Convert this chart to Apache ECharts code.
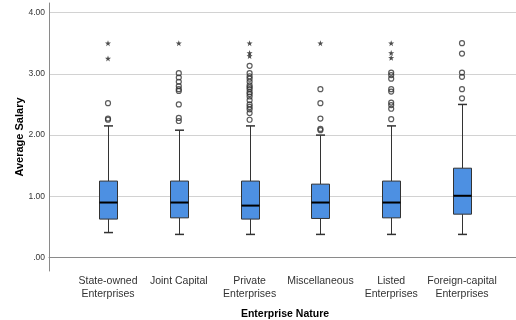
<!DOCTYPE html>
<html>
<head>
<meta charset="utf-8">
<script src="https://cdn.jsdelivr.net/npm/echarts@6/dist/echarts.min.js"></script>
<style>html,body{margin:0;padding:0;background:#fff}#c{width:516px;height:320px}</style>
</head>
<body>
<div id="c"></div>
<script>
const categories = ['State-owned\nEnterprises','Joint Capital','Private\nEnterprises','Miscellaneous','Listed\nEnterprises','Foreign-capital\nEnterprises'];
const lowerWhisker = [0.41, 0.38, 0.38, 0.38, 0.38, 0.38];
const q1 = [0.63, 0.65, 0.63, 0.64, 0.65, 0.71];
const median = [0.90, 0.90, 0.85, 0.90, 0.90, 1.01];
const q3 = [1.25, 1.25, 1.25, 1.20, 1.25, 1.46];
const upperWhisker = [2.15, 2.08, 2.15, 2.00, 2.15, 2.50];
const circleOutliers = [
  [2.25, 2.27, 2.52],
  [2.23, 2.28, 2.50, 2.72, 2.75, 2.80, 2.87, 2.94, 3.01],
  [2.25, 2.36, 2.42, 2.46, 2.50, 2.57, 2.63, 2.67, 2.70, 2.75, 2.78, 2.81, 2.87, 2.92, 2.96, 3.01, 3.13],
  [2.08, 2.10, 2.27, 2.52, 2.75],
  [2.26, 2.43, 2.49, 2.53, 2.71, 2.75, 2.92, 2.98, 3.02],
  [2.60, 2.75, 2.95, 3.02, 3.33, 3.50]
];
const starOutliers = [
  [3.25, 3.50],
  [3.50],
  [3.29, 3.34, 3.50],
  [3.50],
  [3.26, 3.34, 3.50],
  []
];
const yMin = -0.217, yMax = 4.155;
const FONT = "'Liberation Sans', Arial, sans-serif";

const boxData = categories.map((c, i) => [i, lowerWhisker[i], q1[i], median[i], q3[i], upperWhisker[i]]);
const circleData = [];
circleOutliers.forEach((arr, i) => arr.forEach(v => circleData.push([i, v])));
const starData = [];
starOutliers.forEach((arr, i) => arr.forEach(v => starData.push([i, v])));

const STAR = 'path://M0,-10 L2.35,-3.24 L9.51,-3.09 L3.8,1.24 L5.88,8.09 L0,4 L-5.88,8.09 L-3.8,1.24 L-9.51,-3.09 L-2.35,-3.24 Z';

const chart = echarts.init(document.getElementById('c'), null, {renderer: 'canvas'});
chart.setOption({
  animation: false,
  backgroundColor: '#fff',
  grid: [
    {left: 49, right: 0, top: 3, bottom: 49, outerBoundsMode: 'none', containLabel: false},
    {left: 72.6, right: 18.6, top: 3, bottom: 49, outerBoundsMode: 'none', containLabel: false}
  ],
  xAxis: [
    {gridIndex: 0, type: 'value', min: 0, max: 1,
     axisLine: {show: true, lineStyle: {color: '#8a8a8a', width: 1}},
     axisTick: {show: false}, axisLabel: {show: false}, splitLine: {show: false}},
    {gridIndex: 1, type: 'category', data: categories,
     axisLine: {show: false}, axisTick: {show: false},
     axisLabel: {interval: 0, margin: 4, color: '#333', fontFamily: FONT, fontSize: 10.5, lineHeight: 12.5},
     name: 'Enterprise Nature', nameLocation: 'middle', nameGap: 38, nameMoveOverlap: false,
     nameTextStyle: {fontFamily: FONT, fontSize: 10.5, fontWeight: 'bold', color: '#000'}}
  ],
  yAxis: [
    {gridIndex: 0, type: 'value', min: yMin, max: yMax, splitNumber: 4,
     axisLine: {show: true, lineStyle: {color: '#8a8a8a', width: 1}},
     axisTick: {show: false},
     axisLabel: {showMinLabel: false, showMaxLabel: false, margin: 4, color: '#333', fontFamily: FONT, fontSize: 8.5,
       formatter: v => (Math.abs(v - Math.round(v)) > 1e-6) ? '' : (Math.round(v) === 0 ? '.00' : v.toFixed(2))},
     splitLine: {show: true, showMinLine: false, showMaxLine: false, lineStyle: {color: '#d2d2d2', width: 1}},
     name: 'Average Salary', nameLocation: 'middle', nameGap: 24, nameMoveOverlap: false,
     nameTextStyle: {fontFamily: FONT, fontSize: 11, fontWeight: 'bold', color: '#000'}},
    {gridIndex: 1, type: 'value', min: yMin, max: yMax, show: false, splitLine: {show: false}}
  ],
  series: [
    {
      type: 'custom', xAxisIndex: 1, yAxisIndex: 1, data: boxData,
      renderItem: function (params, api) {
        const x = api.value(0);
        const pLo = api.coord([x, api.value(1)]);
        const pQ1 = api.coord([x, api.value(2)]);
        const pMed = api.coord([x, api.value(3)]);
        const pQ3 = api.coord([x, api.value(4)]);
        const pHi = api.coord([x, api.value(5)]);
        const cx = Math.round(pMed[0]) + 0.5;
        const bw = 18, cw = 9;
        const ls = {stroke: '#333', lineWidth: 1};
        return {
          type: 'group',
          children: [
            {type: 'line', shape: {x1: cx, y1: pHi[1], x2: cx, y2: pQ3[1]}, style: ls},
            {type: 'line', shape: {x1: cx, y1: pLo[1], x2: cx, y2: pQ1[1]}, style: ls},
            {type: 'line', shape: {x1: cx - cw / 2, y1: pHi[1], x2: cx + cw / 2, y2: pHi[1]}, style: {stroke: '#333', lineWidth: 1.5}},
            {type: 'line', shape: {x1: cx - cw / 2, y1: pLo[1], x2: cx + cw / 2, y2: pLo[1]}, style: {stroke: '#333', lineWidth: 1.5}},
            {type: 'rect', shape: {x: cx - bw / 2, y: pQ3[1], width: bw, height: pQ1[1] - pQ3[1]},
             style: {fill: '#4d90e2', stroke: '#333', lineWidth: 1}},
            {type: 'line', shape: {x1: cx - bw / 2, y1: pMed[1], x2: cx + bw / 2, y2: pMed[1]}, style: {stroke: '#000', lineWidth: 2}}
          ]
        };
      }
    },
    {
      type: 'scatter', xAxisIndex: 1, yAxisIndex: 1, data: circleData,
      symbol: 'circle', symbolSize: 5,
      itemStyle: {color: 'rgba(255,255,255,0)', borderColor: '#333', borderWidth: 1.2}
    },
    {
      type: 'scatter', xAxisIndex: 1, yAxisIndex: 1, data: starData,
      symbol: STAR, symbolSize: 6,
      itemStyle: {color: '#222'}
    }
  ]
});
</script>
</body>
</html>
